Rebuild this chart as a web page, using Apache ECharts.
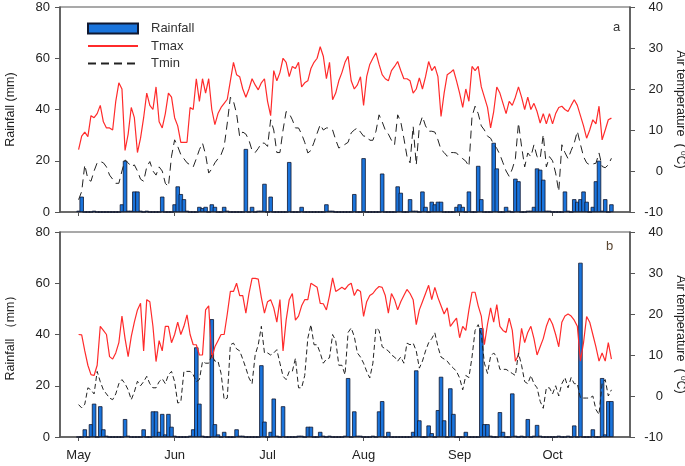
<!DOCTYPE html>
<html>
<head>
<meta charset="utf-8">
<script src="https://cdn.jsdelivr.net/npm/echarts@6/dist/echarts.min.js"></script>
<style>
html,body{margin:0;padding:0;background:#fff;}
#chart{width:685px;height:466px;}
</style>
</head>
<body>
<div id="chart"></div>
<script>
// Daily data, May 1 .. Oct 20 (173 days)
var rainA = [
0.5,6,0,0,0,0.5,0,0,0,0,
0,0,0,0,3,20,0.5,0.5,8,8,
0.5,0,0.5,0,0,0,0,6,0,0,
0,3,10,7,5,0.5,0,0,0,2,
1.5,2,0,3,2,0,0,2,0.5,0,
0,0,0,0,24.6,0,2,0,0.5,0.5,
11,0,6,0,0,0,0,0,19.5,0,
0,0,2,0,0,0,0,0,0,0,
3,0.5,0.5,0,0,0,0,0,0,7,
0,0,21,0,0,0,0,0,15,0,
0,0,0,10,7.5,0,0,5,0.5,0.5,
0,8,2,0,4,3,4,4,0,0,
0,0,2,3,2,0,8,0,0,18,
5,0,0,0,27,17,0,0,2,0.5,
0,13,12,0,0,0.5,0.5,2,17,16.5,
12.6,0.5,0.5,0,0,0,0,8,0.5,0,
5,4,5,8,4,0,2,12,20,0.5,
5,0,3];
var tmaxA = [
5.2,8.5,9.5,8.4,13.5,13,14,16,12,10.5,
10.5,10,17,21.5,20,5,9,15.5,13,4.5,
8,13,19,16,15,20.5,12,10.5,14,19,
18,13,11,7,7,7,15.5,15,22.5,17,
22.5,19,22.5,15,11.3,14,15.5,16.5,17.5,22,
26.5,23.5,23,20,18,20,22.5,21,19.8,21.5,
22.5,17,13.5,24.5,22,24,27.5,26.5,23,25.5,
25,26.5,20.5,21.5,22,25,26.5,27.5,30.3,28,
22.5,26.5,17.4,19,22,24,26.5,28,22,20,
21,23,16,23,26,27.5,28.8,26,23.5,22.5,
22,24.5,25.5,26.7,24.5,22.5,22.5,22,19,20,
22.7,20,23,26.7,24.5,25.5,23,13.3,19,23.5,
24,24.7,22,19,15.5,20,17,25.5,24.5,25.5,
20.5,18,15.5,10.5,14.5,20.5,19,16.5,14,17,
16,18,20.5,18,15,18,15,16.5,14.5,11.7,
14,11.5,14,11.5,14,15.5,15.8,15,14.5,16,
17.4,16,13.5,11,8,10,12.5,11.5,15.8,7.6,
10,12.5,12.9];
var tminA = [
-7,-5,1.5,-2,-2.5,0,2,2.3,2,1,
-1,-2,-3,-3,0,2.7,2,1,1.5,0,
-2,-2.5,1,2.3,0,-1,1,0,-3,-3.8,
3.6,7.6,6,4,3,2,1.5,1,3,5.2,
6.8,4,-0.5,0.5,2,3,4,6,11.7,18,
17,14,8.4,9.5,9,7.5,5,4.5,5.5,6.8,
6.8,6,12.5,10,4.5,4.5,10,14.5,14,12.5,
10.5,10.5,9,7,4.4,5,7,9.2,11.3,10,
10.5,10.5,10,7.6,5.6,6,6.5,7,9.3,10,
10.5,9.5,8.5,8.5,7.5,7.5,9.7,13.7,12,10,
9,7.5,6.4,13.7,12,8,3.6,2,10.9,1.5,
10.9,13.3,11,9.7,9.7,9.5,7.6,5.2,4.5,3.6,
4.5,4.5,4.4,3.5,3,2.4,1.1,13.3,15.8,14,
11,10,8.5,8,6.5,5.5,4,2,0,-1.3,
0.5,3,11.7,6,1,4.4,3.5,6.4,3.5,3,
8.9,1,3.5,2.5,-0.5,-5,6.4,4.5,3,5,
6.8,9.7,6.5,3.5,2,1.5,1.7,1.9,4.4,1.1,
0.8,1.5,3.1];
var rainB = [
0,0,3,0,5,13,0,12,3,0.5,
0,0,0,0,0,7,0.5,0,0,0,
0,3,0,0,10,10,2,9,1,9,
4,0.5,0,0,0,0,0.5,3,35,13,
0.5,0,0,46,5,1,0,2,0,0,
0,3,0.5,0.5,0,0,0,0,0,28,
6,0,2,15,0.5,0,12,0,0,0,
0,0.5,0.5,0,4,4,0,0,2,0.5,
0,0.5,0,0,0,0,0.5,23,0,10,
0.5,0.5,0,0,0,0.5,0,10,14,0,
2,0,0,0,0,0,0,0,2,26,
6.5,0,0,4.5,1.5,0,10.5,23.5,6.5,0,
19,9,0,0,0,2,0,0,0,0,
42.5,5,5,0.5,0,0,9.7,2,0,0,
17,0.5,0,0.5,0,7,0,0.5,4.7,0.5,
0,0,0,0,0,0.5,0,0,0.5,0,
4.5,0,68,0,0,0,3,0,0,23,
1,14,14];
var tmaxB = [
15,14.9,11,7.5,5.2,5,7.5,17,16,15,
9.6,9,10.5,13,19.5,14,9.6,14.5,18,21,
22.6,11,23.5,23,17,8.4,13.5,11,17,17,
13,15,18,15,17,19.8,15,12.5,12.5,10,
10,21,22,9.2,12,13.5,15,15,20,25.5,
25.5,27.5,24.5,24.5,20.2,25,28.7,28.7,28.5,24,
20.2,23,23.5,21.5,18,23.5,11,18.5,23.5,25,
18.5,19.5,22,23.5,23.5,27.5,27,26.5,22.6,22.5,
21,24.5,28.8,25.5,26,26.5,26,27,27.5,24.5,
26,25.5,19.4,23,24.5,25,26,26.7,26.5,24.5,
20.2,25,23.5,21,23,24.5,26,25,23.5,17.4,
21,23,25,27,23.5,26.5,24,22,20,21.5,
17,18,19,14.2,17,16,21,25.3,25.3,22,
19.5,12.5,17.5,21.5,18,22.3,17,16,15.5,19,
16,8.5,10,16.5,13,15.5,17,14,10,12,
14,17,19,17.5,15,12,18,19.5,20,19.5,
18.5,17,8.5,13,19.4,18,15,12,8.5,10.5,
8.5,13,9];
var tminB = [
-2.1,-2.9,-2,2,1.5,0.5,6,3.5,1.5,0.5,
-0.5,-0.9,0.5,3,4,3,1.5,-0.9,1,3.6,
2.5,3.5,4.8,3,2,2,3.5,4.2,3,5.2,
6,3.5,-1.7,-1.5,6,6,6,5.2,3.5,4,
8.4,8,8,10,8.5,8.5,5.5,-0.9,-0.5,12.5,
12.9,11.5,11,9,6.8,4.4,3,10,12.5,17,
10.5,10.5,10,10.5,11.3,8,4.8,4,6,6,
9.2,2,2,5,14.1,17.4,12.5,12.5,10.5,8,
9,9.3,15,13.5,7.5,7.5,5.2,15.5,16.6,14.5,
10.5,9.5,8,6,4.4,8,16.6,16,12,11.5,
11,10,9.5,8.5,9.5,8,12.9,12.5,12.9,11,
6.8,8.5,11,13,14,15.4,12,9.5,9,8.5,
7.5,6.8,6,4.4,1.5,5,4.5,9.5,16,17.4,
15,8,5.5,9.7,10.5,9.5,6.5,6.5,6.5,6,
5.5,5,10.5,7.5,3.5,3,5,3,2,-1.3,
-3,2,2,0.5,2.5,0,3,4.5,2,4.5,
3,3,-0.5,-0.5,-0.5,-0.5,0,-3.3,-4.5,3.1,
4,0,1.5];
var monthLabels = ['May','Jun','Jul','Aug','Sep','Oct'];
var rainTicks = [0,20,40,60,80];
var tempTicks = [-10,0,10,20,30,40];

// categories: Apr 25 .. Oct 26
var categories = [];
(function(){
  var d = new Date(Date.UTC(2000,3,25));
  var end = new Date(Date.UTC(2000,9,26));
  while (d <= end) {
    var m = d.getUTCMonth()+1, day = d.getUTCDate();
    categories.push((m<10?'0':'')+m+'-'+(day<10?'0':'')+day);
    d = new Date(d.getTime()+86400000);
  }
})();
var lead = categories.indexOf('05-01');
function pad(arr){
  var out = [];
  for (var i=0;i<categories.length;i++){
    var j=i-lead;
    out.push(j>=0 && j<arr.length ? arr[j] : null);
  }
  return out;
}
function isMonthStart(idx, val){
  var m = parseInt(val.slice(0,2),10);
  return val.slice(3)==='01' && m>=5 && m<=10;
}
var font = 'Liberation Sans, Arial, sans-serif';
var axisColor = '#555';
var labelStyle = {fontSize:13, color:'#222', fontFamily:font};

function xAx(gi, showLabel){
  return {
    type:'category', gridIndex:gi, data:categories, boundaryGap:false,
    axisLine:{lineStyle:{color:axisColor,width:1.5}},
    axisTick:{show:true, interval:isMonthStart, length:4, lineStyle:{color:axisColor}},
    axisLabel:{show:showLabel, interval:isMonthStart, margin:12,
      formatter:function(v){return monthLabels[parseInt(v.slice(0,2),10)-5];},
      fontSize:13, color:'#222', fontFamily:font},
    splitLine:{show:false}
  };
}
function yRain(gi, name){
  return {
    type:'value', gridIndex:gi, min:rainTicks[0], max:rainTicks[rainTicks.length-1], interval:20,
    position:'left', name:name, nameLocation:'middle', nameGap:43,
    nameTextStyle:{fontSize:12.5, color:'#222', fontFamily:font},
    axisLine:{show:true, lineStyle:{color:axisColor,width:1.5}},
    axisTick:{show:true, length:5, lineStyle:{color:axisColor}},
    axisLabel:Object.assign({margin:10}, labelStyle),
    splitLine:{show:false}
  };
}
function yTemp(gi){
  return {
    type:'value', gridIndex:gi, min:tempTicks[0], max:tempTicks[tempTicks.length-1], interval:10,
    position:'right',
    name:'Air temperature  ( {s|0}C)', nameLocation:'middle', nameGap:38, nameRotate:-90,
    nameTextStyle:{fontSize:12.5, color:'#222', fontFamily:font,
      rich:{s:{fontSize:8, verticalAlign:'top', padding:[0,0,6,0], fontFamily:font, color:'#222'}}},
    axisLine:{show:true, lineStyle:{color:axisColor,width:1.5}},
    axisTick:{show:true, length:5, lineStyle:{color:axisColor}},
    axisLabel:Object.assign({margin:33, align:'right'}, labelStyle),
    splitLine:{show:false}
  };
}
var barStyle = {color:'#1a74dc', borderColor:'#101830', borderWidth:0.8};
function series(xi, yR, yT, rain, tmax, tmin, dash){
  return [
    {name:'Rainfall', type:'bar', xAxisIndex:xi, yAxisIndex:yR, data:pad(rain),
     barWidth:4.4, itemStyle:barStyle, z:2, silent:true},
    {name:'Tmax', type:'line', xAxisIndex:xi, yAxisIndex:yT, data:pad(tmax),
     symbol:'none', connectNulls:false, lineStyle:{color:'#ff2b2b', width:1.2}, itemStyle:{color:'#ff2b2b'}, z:3, silent:true},
    {name:'Tmin', type:'line', xAxisIndex:xi, yAxisIndex:yT, data:pad(tmin),
     symbol:'none', lineStyle:{color:'#222', width:1, type:dash}, itemStyle:{color:'#222'}, z:3, silent:true}
  ];
}
var gridBase = {show:true, borderColor:axisColor, borderWidth:1.2, backgroundColor:'transparent',
  containLabel:false, outerBoundsMode:'none'};
var chart = echarts.init(document.getElementById('chart'), null, {renderer:'canvas'});
chart.setOption({
  animation:false,
  backgroundColor:'#fff',
  grid:[
    Object.assign({left:60, top:7, width:570, height:205}, gridBase),
    Object.assign({left:60, top:232, width:570, height:205}, gridBase)
  ],
  xAxis:[xAx(0,false), xAx(1,true)],
  yAxis:[yRain(0,'Rainfall (mm)'), yTemp(0), yRain(1,'Rainfall \uFF08mm\uFF09'), yTemp(1)],
  legend:{
    data:[
      {name:'Rainfall', icon:'rect'},
      {name:'Tmax', itemStyle:{opacity:0}},
      {name:'Tmin', itemStyle:{opacity:0}}
    ],
    orient:'vertical', left:87, top:22, padding:0,
    itemWidth:50, itemHeight:10, itemGap:4.5,
    textStyle:{fontSize:13, color:'#333', fontFamily:font, padding:[0,0,0,8]},
    selectedMode:false
  },
  graphic:[
    {type:'text', left:613, top:21, style:{text:'a', fontSize:13, fill:'#333', fontFamily:font}},
    {type:'text', left:606, top:240, style:{text:'b', fontSize:13, fill:'#5a4632', fontFamily:font}}
  ],
  series: series(0,0,1,rainA,tmaxA,tminA,[8,5]).concat(series(1,2,3,rainB,tmaxB,tminB,[5,3]))
});
</script>
</body>
</html>
